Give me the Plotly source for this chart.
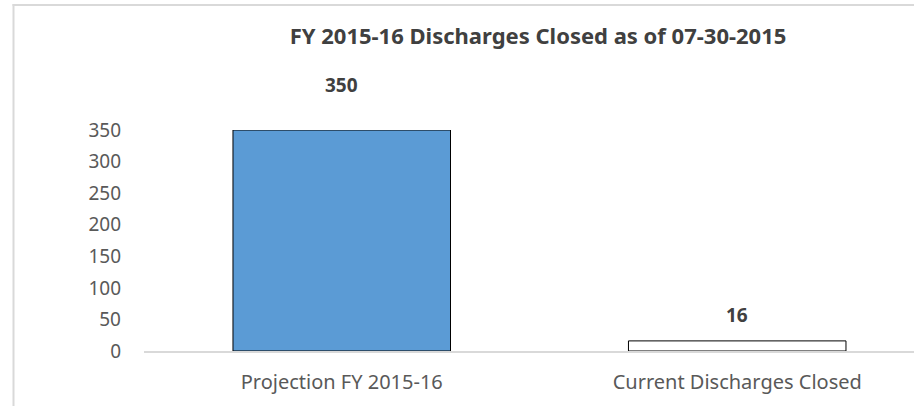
import plotly.graph_objects as go

categories = ["Projection FY 2015-16", "Current Discharges Closed"]
values = [350, 16]
tick_vals = [0, 50, 100, 150, 200, 250, 300, 350]

bar_colors = ["#5B9BD5", "#FFFFFF"]
label_shift = [45, 26]

W, H = 914, 406
ml, mr, mt, mb = 144, 0, 130, 55
FONT = "Noto Sans, Open Sans, sans-serif"

fig = go.Figure()
fig.add_trace(go.Bar(
    x=categories, y=values,
    marker=dict(color=bar_colors, line=dict(color="#000000", width=1)),
    width=0.55,
    hoverinfo="skip",
))

for c, v, s in zip(categories, values, label_shift):
    fig.add_annotation(x=c, y=v, text=f"<b>{v}</b>", showarrow=False,
                       yshift=s, yanchor="middle",
                       font=dict(family=FONT, size=19, color="#404040"))

pw = W - ml - mr
def px(x):
    return (x - ml) / pw
ph = H - mt - mb
def py(y):
    return (H - mb - y) / ph

# chart outer border (left and top) as thin filled strips
fig.add_shape(type="rect", xref="paper", yref="paper", layer="above",
              x0=px(12.5), x1=px(14.5), y0=py(406), y1=py(4),
              fillcolor="#D9D9D9", line=dict(width=0))
fig.add_shape(type="rect", xref="paper", yref="paper", layer="above",
              x0=px(12.5), x1=px(914), y0=py(6), y1=py(4),
              fillcolor="#D9D9D9", line=dict(width=0))

fig.update_layout(
    width=W, height=H,
    margin=dict(l=ml, r=mr, t=mt, b=mb),
    paper_bgcolor="white", plot_bgcolor="white",
    showlegend=False,
    title=dict(text="<b>FY 2015-16 Discharges Closed as of 07-30-2015</b>",
               x=538 / W, xanchor="center", y=1 - 36 / H, yanchor="middle",
               font=dict(family=FONT, size=22, color="#404040")),
    font=dict(family=FONT, size=18, color="#595959"),
)
fig.update_layout(title_xref="container", title_yref="container")
fig.update_xaxes(range=[-0.5, 1.447], showline=True, linecolor="#D9D9D9", linewidth=1.5,
                 showgrid=False, zeroline=False, ticks="", ticklabelstandoff=12,
                 tickfont=dict(size=20, color="#595959"))
fig.update_yaxes(range=[0, 350], tickvals=tick_vals, showgrid=False, zeroline=False,
                 showline=False, ticks="", ticklabelstandoff=22,
                 tickfont=dict(size=19, color="#595959"))

fig.write_html("out.html", config={"displayModeBar": False},
               post_script="document.body.style.margin='0';document.body.style.overflow='hidden';")
